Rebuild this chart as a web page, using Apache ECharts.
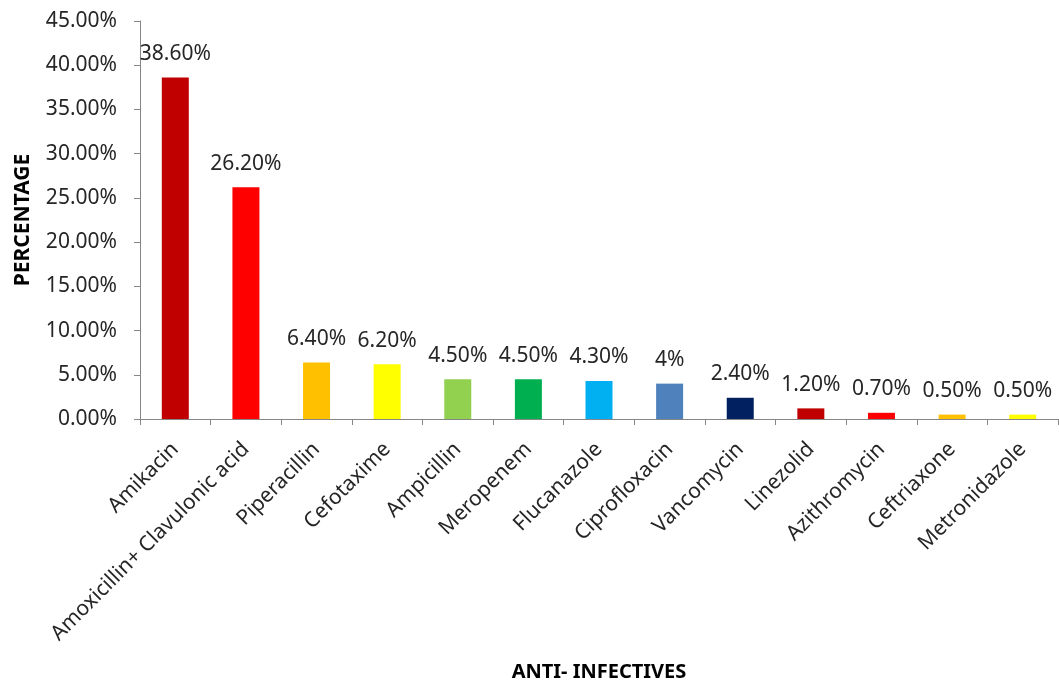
<!DOCTYPE html>
<html>
<head>
<meta charset="utf-8">
<script src="https://cdn.jsdelivr.net/npm/echarts@6/dist/echarts.min.js"></script>
<style>
  html, body { margin: 0; padding: 0; background: #ffffff; }
  #chart { width: 1059px; height: 687px; }
</style>
</head>
<body>
<div id="chart"></div>
<script>
// Anti-infectives usage share
const categories = [
  'Amikacin', 'Amoxicillin+ Clavulonic acid', 'Piperacillin', 'Cefotaxime',
  'Ampicillin', 'Meropenem', 'Flucanazole', 'Ciprofloxacin', 'Vancomycin',
  'Linezolid', 'Azithromycin', 'Ceftriaxone', 'Metronidazole'
];
const percentages = [38.6, 26.2, 6.4, 6.2, 4.5, 4.5, 4.3, 4.0, 2.4, 1.2, 0.7, 0.5, 0.5];
const valueLabels = ['38.60%', '26.20%', '6.40%', '6.20%', '4.50%', '4.50%', '4.30%', '4%', '2.40%', '1.20%', '0.70%', '0.50%', '0.50%'];
const barColors = [
  '#C00000', '#FF0000', '#FFC000', '#FFFF00', '#92D050', '#00B050', '#00B0F0',
  '#4F81BD', '#002060', '#C00000', '#FF0000', '#FFC000', '#FFFF00'
];

const textColor = '#262626';
const axisColor = '#868686';
const font = '"Noto Sans", "Open Sans", sans-serif';

const chart = echarts.init(document.getElementById('chart'), null, { renderer: 'canvas' });

chart.setOption({
  animation: false,
  backgroundColor: '#ffffff',
  grid: { left: 140, right: 1, top: 21, bottom: 268, containLabel: false, outerBoundsMode: 'none' },
  xAxis: {
    type: 'category',
    data: categories,
    name: 'ANTI- INFECTIVES',
    nameLocation: 'middle',
    nameGap: 243,
    nameTextStyle: { color: '#000000', fontFamily: font, fontSize: 20, fontWeight: 'bold' },
    axisLine: { lineStyle: { color: axisColor, width: 1 } },
    axisTick: { show: true, alignWithLabel: false, length: 6, lineStyle: { color: axisColor } },
    axisLabel: {
      rotate: 45,
      interval: 0,
      margin: 27,
      color: textColor,
      fontFamily: font,
      fontSize: 21
    }
  },
  yAxis: {
    type: 'value',
    min: 0,
    max: 45,
    interval: 5,
    name: 'PERCENTAGE',
    nameLocation: 'middle',
    nameGap: 106,
    nameRotate: 90,
    nameTextStyle: { color: '#000000', fontFamily: font, fontSize: 21, fontWeight: 'bold' },
    splitLine: { show: false },
    axisLine: { show: true, lineStyle: { color: axisColor, width: 1 } },
    axisTick: { show: true, length: 6, lineStyle: { color: axisColor } },
    axisLabel: {
      margin: 23,
      color: textColor,
      fontFamily: font,
      fontSize: 21,
      formatter: v => v.toFixed(2) + '%'
    }
  },
  series: [{
    type: 'bar',
    barWidth: 27,
    data: percentages.map((v, i) => ({ value: v, itemStyle: { color: barColors[i] } })),
    label: {
      show: true,
      position: 'top',
      distance: 13,
      color: textColor,
      fontFamily: font,
      fontSize: 21,
      formatter: p => valueLabels[p.dataIndex]
    }
  }]
});
</script>
</body>
</html>
